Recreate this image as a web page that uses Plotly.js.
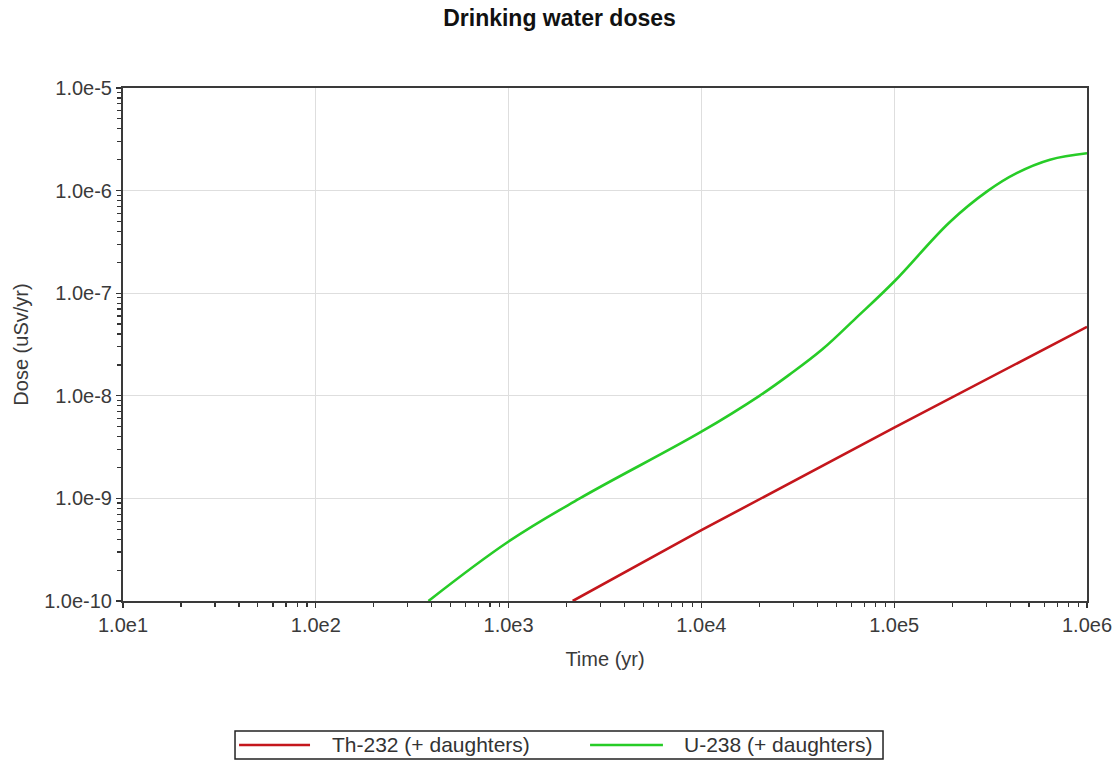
<!DOCTYPE html>
<html>
<head>
<meta charset="utf-8">
<script src="https://cdn.plot.ly/plotly-3.0.1.min.js"></script>
<style>
  html, body { margin: 0; padding: 0; background: #ffffff; }
  #chart { width: 1119px; height: 761px; }
</style>
</head>
<body>
<div id="chart"></div>
<script>
// Dose through drinking water over time, per nuclide chain
const seriesNames = ['Th-232 (+ daughters)', 'U-238 (+ daughters)'];

const thYears = [2150, 10000, 100000, 1000000];
const thDose  = [1.0e-10, 4.9e-10, 4.9e-9, 4.7e-8];

const uYears = [384, 1000, 2340, 10000, 20000, 28500, 42400, 63100,
                100000, 194500, 307000, 431500, 642700, 1000000];
const uDose  = [1.0e-10, 3.8e-10, 1.0e-9, 4.47e-9, 1.0e-8, 1.6e-8, 2.84e-8,
                5.69e-8, 1.3e-7, 4.95e-7, 1.0e-6, 1.48e-6, 2.0e-6, 2.31e-6];

const xTickVals = [1e1, 1e2, 1e3, 1e4, 1e5, 1e6];
const xTickText = ['1.0e1', '1.0e2', '1.0e3', '1.0e4', '1.0e5', '1.0e6'];
const yTickVals = [1e-10, 1e-9, 1e-8, 1e-7, 1e-6, 1e-5];
const yTickText = ['1.0e-10', '1.0e-9', '1.0e-8', '1.0e-7', '1.0e-6', '1.0e-5'];

const colors = ['#c4161c', '#27cc27'];
const FONT = 'Liberation Sans, Arial, sans-serif';

const traces = [
  { x: thYears, y: thDose, name: seriesNames[0], type: 'scatter', mode: 'lines',
    line: { color: colors[0], width: 2.6 }, showlegend: false },
  { x: uYears, y: uDose, name: seriesNames[1], type: 'scatter', mode: 'lines',
    line: { color: colors[1], width: 2.6, shape: 'spline', smoothing: 1.1 }, showlegend: false }
];

const axisCommon = {
  type: 'log',
  tickmode: 'array',
  showline: true, mirror: true, linecolor: '#3a3a3a', linewidth: 2,
  ticks: 'outside', ticklen: 5, tickcolor: '#333', tickwidth: 1.2,
  showgrid: true, gridcolor: '#dedede', gridwidth: 1,
  zeroline: false,
  tickfont: { family: FONT, size: 20, color: '#3a3a3a' },
  minor: { ticks: 'outside', ticklen: 4, tickcolor: '#333', tickwidth: 1.2, dtick: 'D1', showgrid: false }
};

// Custom legend frame: box, line samples and labels in paper coordinates
const lg = { x0: 0.1162, x1: 0.7884, y0: -0.308, y1: -0.2534, ym: -0.2807 };
const samples = [
  { a: 0.1204, b: 0.1940, t: 0.2150 },
  { a: 0.4845, b: 0.5601, t: 0.5800 }
];

const shapes = [
  { type: 'rect', xref: 'paper', yref: 'paper', x0: lg.x0, x1: lg.x1, y0: lg.y0, y1: lg.y1,
    line: { color: '#222', width: 1.5 }, fillcolor: 'rgba(0,0,0,0)' }
];
const annotations = [];
samples.forEach((s, i) => {
  shapes.push({ type: 'line', xref: 'paper', yref: 'paper', x0: s.a, x1: s.b, y0: lg.ym, y1: lg.ym,
    line: { color: colors[i], width: 2.6 } });
  annotations.push({ xref: 'paper', yref: 'paper', x: s.t, y: lg.ym, xanchor: 'left', yanchor: 'middle',
    text: seriesNames[i], showarrow: false, font: { family: FONT, size: 21, color: '#333' } });
});

const layout = {
  width: 1119, height: 761,
  margin: { l: 123, r: 32, t: 88, b: 160 },
  paper_bgcolor: '#ffffff', plot_bgcolor: '#ffffff',
  title: { text: '<b>Drinking water doses</b>', xref: 'container', x: 0.5, xanchor: 'center',
           yref: 'container', y: 0.976, yanchor: 'middle',
           font: { family: FONT, size: 23, color: '#111' } },
  xaxis: Object.assign({}, axisCommon, {
    range: [1, 6], tickvals: xTickVals, ticktext: xTickText,
    title: { text: 'Time (yr)', standoff: 17, font: { family: FONT, size: 20, color: '#3a3a3a' } }
  }),
  yaxis: Object.assign({}, axisCommon, {
    range: [-10, -5], tickvals: yTickVals, ticktext: yTickText,
    title: { text: 'Dose (uSv/yr)', standoff: 10, font: { family: FONT, size: 20, color: '#3a3a3a' } }
  }),
  shapes: shapes,
  annotations: annotations,
  showlegend: false
};

Plotly.newPlot('chart', traces, layout, { displayModeBar: false, staticPlot: true });
</script>
</body>
</html>
